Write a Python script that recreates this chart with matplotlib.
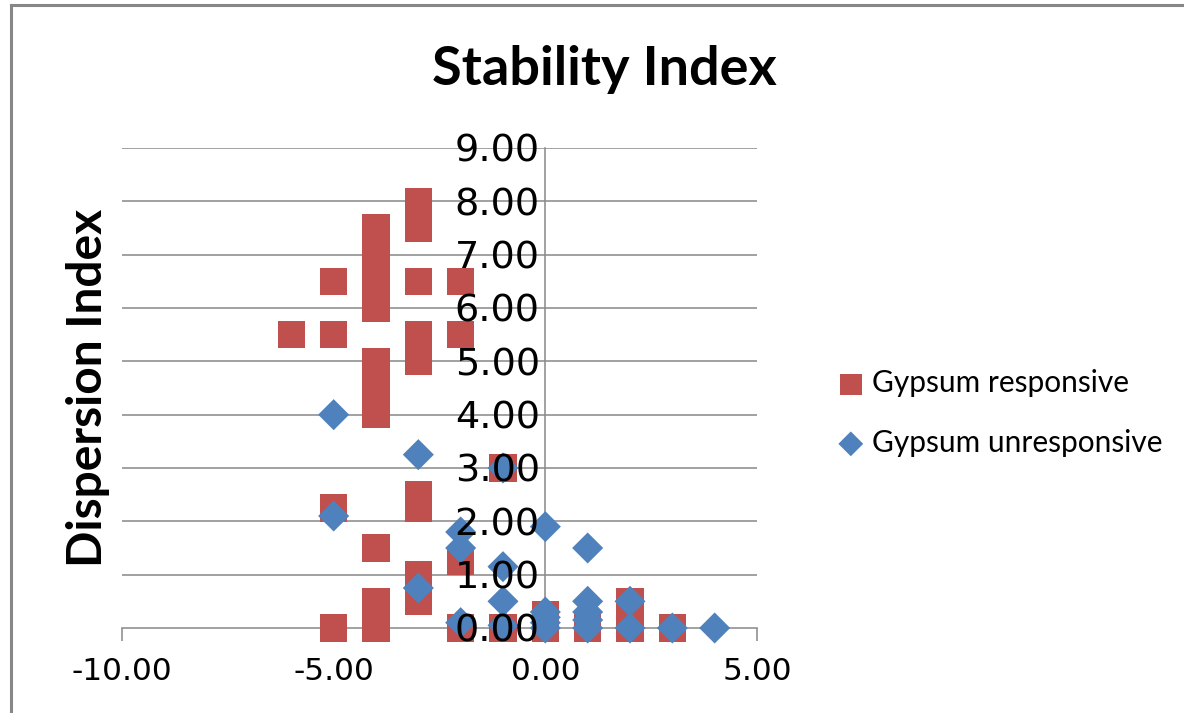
import matplotlib.pyplot as plt
from matplotlib.lines import Line2D

# Gypsum responsive sites
resp_x = [-3, -3, -4, -4, -4, -4, -5, -3, -2, -6, -5, -3, -3, -2, -4, -4, -4,
          -1, -5, -3, -3, -4, -2, -3, -3, -4, -4, -4, -5, -2, -1, 0, 0, 1, 2, 2, 3]
resp_y = [8.0, 7.5, 7.5, 7.0, 6.5, 6.0, 6.5, 6.5, 6.5, 5.5, 5.5, 5.5, 5.0, 5.5, 5.0, 4.5, 4.0,
          3.0, 2.25, 2.5, 2.25, 1.5, 1.25, 1.0, 0.5, 0.5, 0.25, 0.0, 0.0, 0.0, 0.0, 0.25, 0.0, 0.0, 0.5, 0.0, 0.0]

# Gypsum unresponsive sites
unresp_x = [-5, -3, -1, -5, -2, -2, -3, -1, -1, -2, -1, 0, 0, 0, 0, 0,
            1, 1, 1, 1, 1, 2, 2, 3, 4]
unresp_y = [4.0, 3.25, 3.0, 2.1, 1.8, 1.5, 0.75, 1.15, 0.5, 0.1, 0.05, 1.9, 0.3, 0.2, 0.1, 0.0,
            1.5, 0.5, 0.3, 0.15, 0.0, 0.5, 0.0, 0.0, 0.0]

x_ticks = [-10, -5, 0, 5]
y_ticks = [0, 1, 2, 3, 4, 5, 6, 7, 8, 9]

RED = "#C0504D"
BLUE = "#4F81BD"
GRID = "#888888"
FONT = "Lato"
TICKFONT = "DejaVu Sans"

fig = plt.figure(figsize=(11.84, 7.13), dpi=100)
ax = fig.add_axes([122 / 1184, 85 / 713, 635 / 1184, 480 / 713])

# horizontal gridlines kept under the markers
for v in y_ticks[1:]:
    ax.axhline(v, color=GRID, linewidth=1.1, zorder=1)

ax.scatter(resp_x, resp_y, marker="s", s=380, color=RED, edgecolors="none",
           label="Gypsum responsive", zorder=3, clip_on=False)
ax.scatter(unresp_x, unresp_y, marker="D", s=250, color=BLUE, edgecolors="none",
           label="Gypsum unresponsive", zorder=4, clip_on=False)

ax.set_xlim(-10, 5)
ax.set_ylim(0, 9)

for side in ("top", "right"):
    ax.spines[side].set_visible(False)
ax.spines["left"].set_position(("data", 0))
ax.spines["bottom"].set_position(("data", 0))
for side in ("left", "bottom"):
    ax.spines[side].set_color(GRID)
    ax.spines[side].set_linewidth(1.1)
    ax.spines[side].set_zorder(2)
ax.tick_params(axis="x", direction="out", length=9, width=1.1, color=GRID, pad=12)
ax.tick_params(axis="y", length=0, pad=4)

ax.set_xticks(x_ticks)
ax.set_xticklabels([f"{v:.2f}" for v in x_ticks], fontsize=22.5, family=TICKFONT)
ax.set_yticks(y_ticks)
ax.set_yticklabels([f"{v:.2f}" for v in y_ticks], fontsize=27.5, family=TICKFONT)
# axis labels sit on top of the markers
ax.yaxis.set_zorder(5)

fig.text(604 / 1184, 1 - 70 / 713, "Stability Index", ha="center", va="center",
         fontsize=39, fontweight="bold", family=FONT)
fig.text(88 / 1184, 1 - 388 / 713, "Dispersion Index", ha="center", va="center",
         rotation=90, fontsize=34.5, fontweight="bold", family=FONT)

leg = ax.legend(loc="center left", bbox_to_anchor=(806 / 1184, 1 - 413 / 713),
                bbox_transform=fig.transFigure, frameon=False, prop={"family": FONT, "size": 21.5},
                labelspacing=1.05, handletextpad=0.1, handlelength=1.2, markerscale=0.8)

# outer chart frame
fig.add_artist(Line2D([11 / 1184, 1], [1 - 5 / 713, 1 - 5 / 713], color="#878787", linewidth=2.2))
fig.add_artist(Line2D([11 / 1184, 11 / 1184], [0, 1 - 5 / 713], color="#878787", linewidth=2.2))

fig.savefig("out.png", dpi=100)
